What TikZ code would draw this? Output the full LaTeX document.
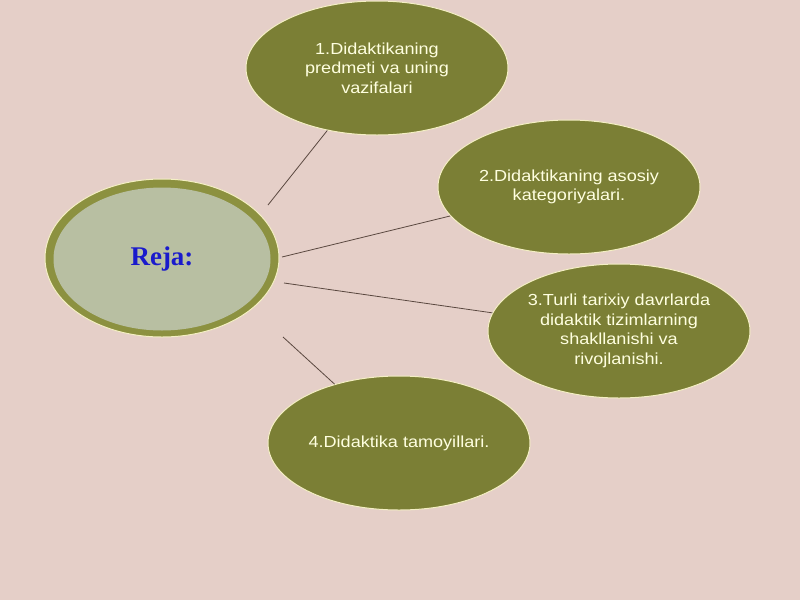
\documentclass[tikz,border=0pt]{standalone}
\usepackage{fontspec}
\setmainfont{Liberation Sans}
\newfontfamily\topicf[FakeStretch=1.13]{Liberation Sans}
\newfontfamily\timesf{Liberation Serif}
\usetikzlibrary{shapes.geometric}
\definecolor{bgc}{HTML}{E5CFC8}
\definecolor{olive}{HTML}{7B7F35}
\definecolor{ring}{HTML}{8C9140}
\definecolor{innerc}{HTML}{B8BFA2}
\definecolor{edgec}{HTML}{F4EFC4}
\definecolor{txtc}{HTML}{FFFFE0}
\definecolor{linec}{HTML}{5A4840}
\definecolor{rejac}{HTML}{1A1ACC}
\tikzset{
  topic/.style={ellipse, fill=olive, draw=edgec, line width=1pt, minimum width=262pt, minimum height=134pt,
    inner sep=0pt, text=txtc, align=center, font=\topicf\fontsize{16}{19.5}\selectfont},
  conn/.style={draw=linec, line width=0.8pt}
}
\begin{document}
\begin{tikzpicture}[x=1pt,y=-1pt]
\fill[bgc] (0,0) rectangle (800,600);
\useasboundingbox (0,0) rectangle (800,600);
% central
\node[ellipse, fill=ring, draw=edgec, line width=1pt, minimum width=234pt, minimum height=158pt] (c) at (162,258) {};
\node[ellipse, fill=innerc, minimum width=217pt, minimum height=143pt, inner sep=0pt, text=rejac,
  font=\timesf\bfseries\fontsize{27}{30}\selectfont] (ci) at (162,259) {Reja:};
% topics
\node[topic] (e1) at (377,68) {1.Didaktikaning\\predmeti va uning\\vazifalari};
\node[topic] (e2) at (569,187) {2.Didaktikaning asosiy\\kategoriyalari.};
\node[topic] (e3) at (619,331) {3.Turli tarixiy davrlarda\\didaktik tizimlarning\\shakllanishi va\\rivojlanishi.};
\node[topic] (e4) at (399,443) {4.Didaktika tamoyillari.};
% connectors
\coordinate (s1) at (268,205);
\coordinate (s2) at (282,257);
\coordinate (s3) at (284,283);
\coordinate (s4) at (283,337);
\draw[conn] (s1) -- (e1);
\draw[conn] (s2) -- (e2);
\draw[conn] (s3) -- (e3);
\draw[conn] (s4) -- (e4);
\end{tikzpicture}
\end{document}
